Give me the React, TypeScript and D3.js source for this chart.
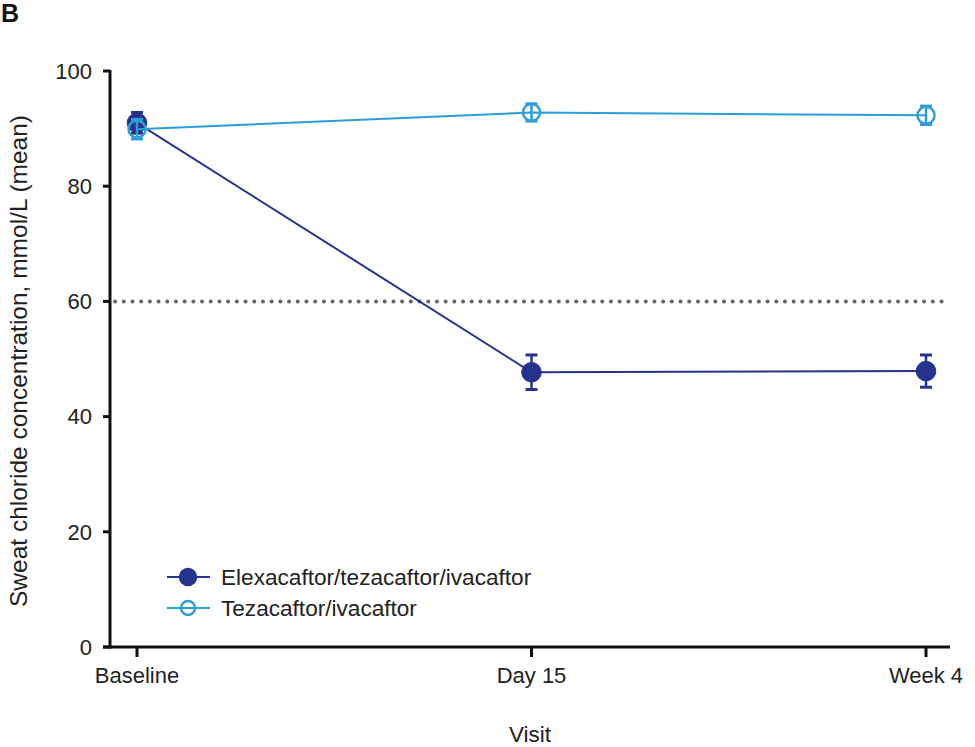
import React from "react";
import * as d3 from "d3";

const visits = ["Baseline", "Day 15", "Week 4"];
const etiMean = [91.0, 47.7, 47.9];
const etiErr = [1.8, 3.0, 2.8];
const tiMean = [89.9, 92.8, 92.3];
const tiErr = [1.7, 1.5, 1.6];
const yTicks = [0, 20, 40, 60, 80, 100];
const threshold = 60;

const series = [
  { name: "Elexacaftor/tezacaftor/ivacaftor", mean: etiMean, err: etiErr, color: "#25338f", filled: true },
  { name: "Tezacaftor/ivacaftor", mean: tiMean, err: tiErr, color: "#2a9fd8", filled: false },
];

export default function App() {
  const width = 975;
  const height = 747;
  const font = "Liberation Sans, Arial, sans-serif";

  const x = d3.scalePoint<string>().domain(visits).range([137, 926]);
  const y = d3.scaleLinear().domain([0, 100]).range([647, 71]);
  const line = d3.line<number>().x((_, i) => x(visits[i])!).y((d) => y(d));

  return (
    <svg width={width} height={height} style={{ position: "absolute", left: 0, top: 0, fontFamily: font }}>
      <rect width={width} height={height} fill="#fff" />
      <text x={1} y={22} fontSize={25} fontWeight="bold" fill="#111">B</text>

      {/* threshold */}
      <line x1={115} x2={945} y1={y(threshold)} y2={y(threshold)} stroke="#666" strokeWidth={4} strokeDasharray="0.1 8.6" strokeLinecap="round" />

      {/* axes */}
      <line x1={110} x2={110} y1={y(100) - 1} y2={y(0) + 1.5} stroke="#111" strokeWidth={3} />
      <line x1={103} x2={950} y1={y(0)} y2={y(0)} stroke="#111" strokeWidth={3} />
      {yTicks.map((t) => (
        <g key={t}>
          <line x1={103} x2={110} y1={y(t)} y2={y(t)} stroke="#111" strokeWidth={3} />
          <text x={92} y={y(t)} dy="0.35em" textAnchor="end" fontSize={22} fill="#222">{t}</text>
        </g>
      ))}
      {visits.map((v) => (
        <g key={v}>
          <line x1={x(v)} x2={x(v)} y1={y(0)} y2={y(0) + 10} stroke="#111" strokeWidth={3} />
          <text x={x(v)} y={y(0) + 36} textAnchor="middle" fontSize={22} fill="#222">{v}</text>
        </g>
      ))}
      <text transform={`translate(27,361) rotate(-90)`} textAnchor="middle" fontSize={24.5} fill="#222">
        Sweat chloride concentration, mmol/L (mean)
      </text>
      <text x={530} y={742} textAnchor="middle" fontSize={22.5} fill="#222">Visit</text>

      {/* series */}
      {series.map((s) => (
        <g key={s.name}>
          <path d={line(s.mean)!} fill="none" stroke={s.color} strokeWidth={2} />
          {s.mean.map((m, i) => {
            const cx = x(visits[i])!;
            return (
              <g key={i} stroke={s.color} strokeWidth={2.5}>
                <line x1={cx} x2={cx} y1={y(m + s.err[i])} y2={y(m - s.err[i])} />
                <line x1={cx - 6} x2={cx + 6} y1={y(m + s.err[i])} y2={y(m + s.err[i])} strokeWidth={3} />
                <line x1={cx - 6} x2={cx + 6} y1={y(m - s.err[i])} y2={y(m - s.err[i])} strokeWidth={3} />
                <circle cx={cx} cy={y(m)} r={s.filled ? 9.8 : 8.5} fill={s.filled ? s.color : "none"} strokeWidth={s.filled ? 1 : 2.5} />
              </g>
            );
          })}
        </g>
      ))}

      {/* legend */}
      {series.map((s, i) => {
        const ly = 577 + i * 31;
        return (
          <g key={s.name}>
            <line x1={167} x2={210} y1={ly} y2={ly} stroke={s.color} strokeWidth={2} />
            <circle cx={188} cy={ly} r={s.filled ? 8 : 7} fill={s.filled ? s.color : "#fff"} stroke={s.color} strokeWidth={2.5} />
            {!s.filled && <line x1={181} x2={195} y1={ly} y2={ly} stroke={s.color} strokeWidth={2} />}
            <text x={221} y={ly} dy="0.35em" fontSize={22.6} fill="#222">{s.name}</text>
          </g>
        );
      })}
    </svg>
  );
}
